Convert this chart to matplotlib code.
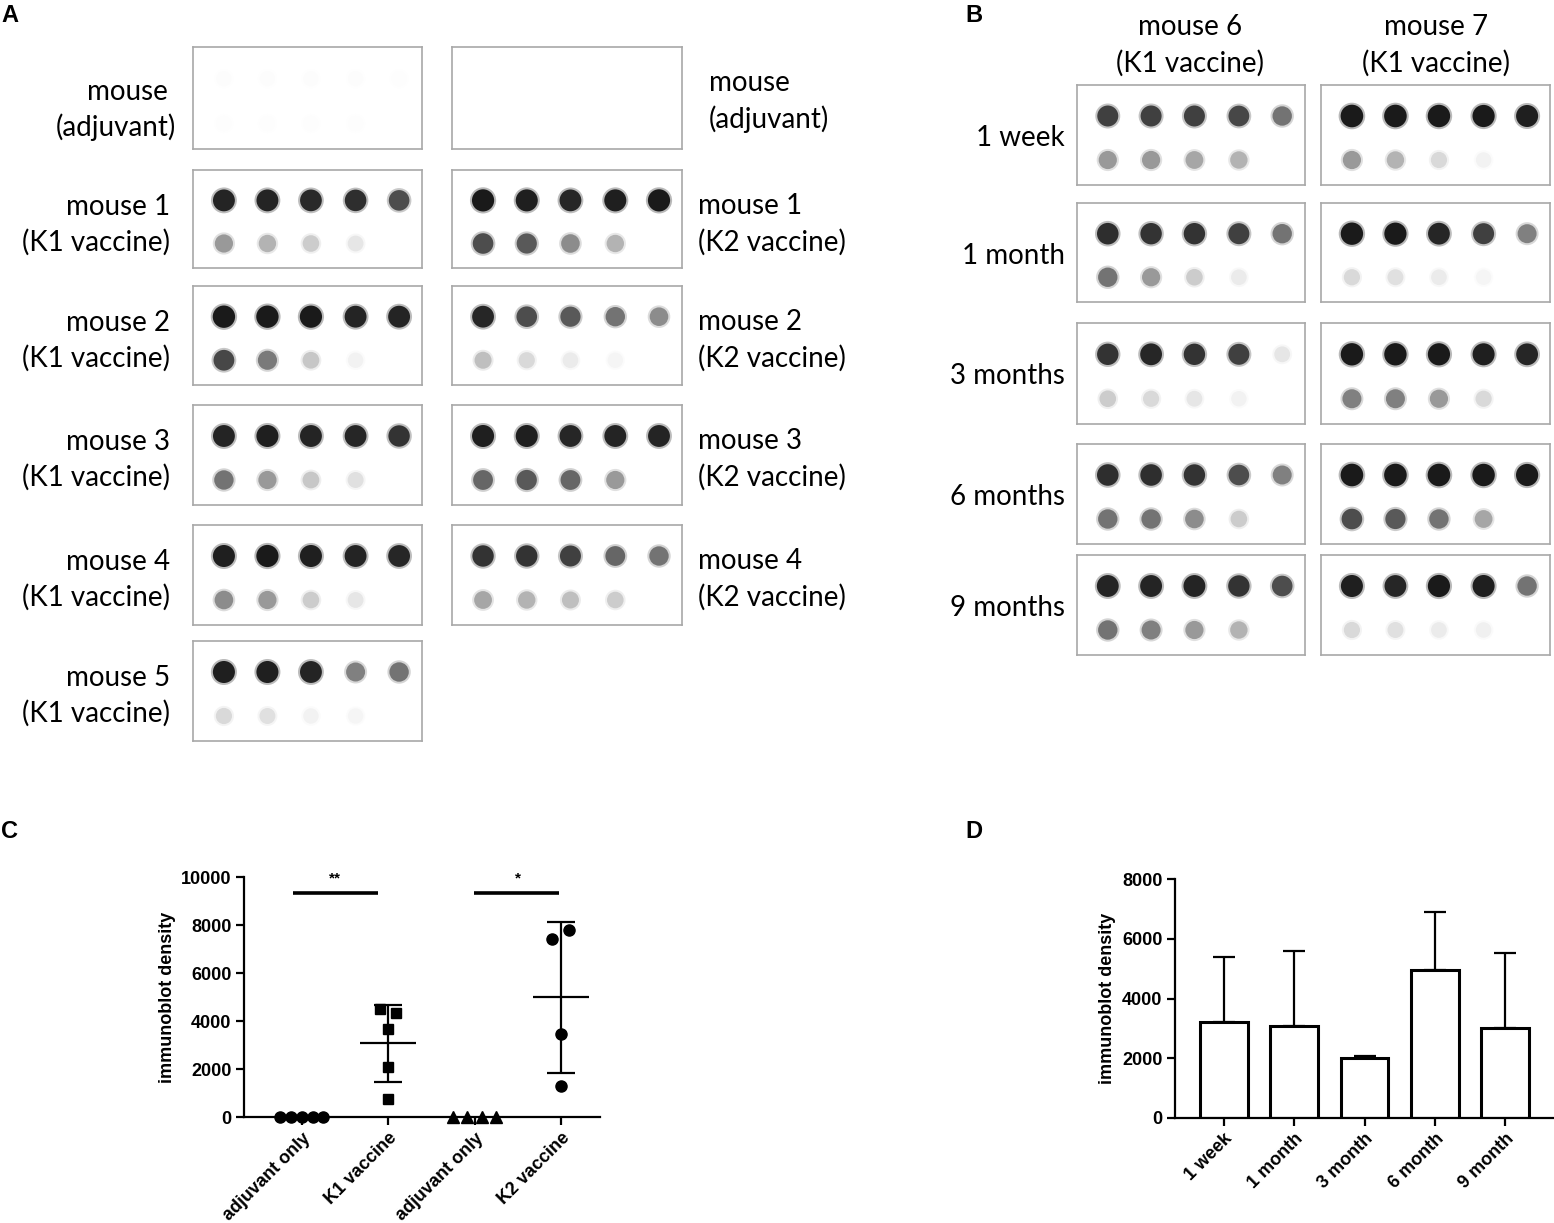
import matplotlib
matplotlib.use("Agg")
import matplotlib.pyplot as plt
import numpy as np

W, H = 1554, 1223

# ---- panel A dot blots: intensity 0 (none) .. 1 (black), top row 5 dots, bottom row 4
a_left_labels = [("mouse", "(adjuvant)"), ("mouse 1", "(K1 vaccine)"), ("mouse 2", "(K1 vaccine)"),
                 ("mouse 3", "(K1 vaccine)"), ("mouse 4", "(K1 vaccine)"), ("mouse 5", "(K1 vaccine)")]
a_left_top = [[0.012, 0.012, 0.012, 0.012, 0.008],
              [0.86, 0.86, 0.84, 0.82, 0.70],
              [0.92, 0.92, 0.90, 0.86, 0.86],
              [0.86, 0.88, 0.86, 0.85, 0.80],
              [0.88, 0.90, 0.88, 0.86, 0.85],
              [0.88, 0.88, 0.86, 0.50, 0.55]]
a_left_bot = [[0.008, 0.008, 0.008, 0.008],
              [0.40, 0.30, 0.20, 0.10],
              [0.72, 0.52, 0.22, 0.05],
              [0.55, 0.40, 0.22, 0.12],
              [0.45, 0.40, 0.20, 0.10],
              [0.15, 0.12, 0.05, 0.04]]

a_right_labels = [("mouse", "(adjuvant)"), ("mouse 1", "(K2 vaccine)"), ("mouse 2", "(K2 vaccine)"),
                  ("mouse 3", "(K2 vaccine)"), ("mouse 4", "(K2 vaccine)")]
a_right_top = [[0.0, 0.0, 0.0, 0.0, 0.0],
               [0.90, 0.88, 0.85, 0.88, 0.90],
               [0.85, 0.70, 0.65, 0.55, 0.45],
               [0.88, 0.88, 0.85, 0.86, 0.86],
               [0.80, 0.80, 0.75, 0.60, 0.55]]
a_right_bot = [[0.0, 0.0, 0.0, 0.0],
               [0.70, 0.65, 0.45, 0.30],
               [0.25, 0.15, 0.08, 0.04],
               [0.60, 0.65, 0.60, 0.40],
               [0.35, 0.30, 0.25, 0.20]]

# ---- panel B
b_rows = ["1 week", "1 month", "3 months", "6 months", "9 months"]
b_heads = [("mouse 6", "(K1 vaccine)"), ("mouse 7", "(K1 vaccine)")]
b_m6_top = [[0.75, 0.75, 0.75, 0.72, 0.55],
            [0.82, 0.80, 0.80, 0.75, 0.55],
            [0.80, 0.85, 0.80, 0.75, 0.10],
            [0.82, 0.82, 0.80, 0.70, 0.50],
            [0.86, 0.86, 0.86, 0.80, 0.70]]
b_m6_bot = [[0.40, 0.40, 0.35, 0.30],
            [0.55, 0.40, 0.20, 0.08],
            [0.20, 0.15, 0.10, 0.05],
            [0.55, 0.55, 0.45, 0.20],
            [0.55, 0.50, 0.40, 0.30]]
b_m7_top = [[0.95, 0.95, 0.93, 0.90, 0.88],
            [0.92, 0.90, 0.85, 0.75, 0.50],
            [0.92, 0.92, 0.90, 0.88, 0.85],
            [0.95, 0.95, 0.95, 0.93, 0.90],
            [0.88, 0.85, 0.90, 0.88, 0.55]]
b_m7_bot = [[0.40, 0.30, 0.15, 0.05],
            [0.15, 0.12, 0.08, 0.04],
            [0.50, 0.50, 0.40, 0.15],
            [0.70, 0.65, 0.55, 0.35],
            [0.15, 0.12, 0.08, 0.06]]

# ---- panel C
c_groups = ["adjuvant only", "K1 vaccine", "adjuvant only", "K2 vaccine"]
c_adj1 = [0, 0, 0, 0, 0]
c_adj1_x = [-0.25, -0.125, 0.0, 0.125, 0.25]
c_k1 = [4505, 4351, 3668, 2092, 753]
c_k1_x = [-0.1, 0.09, 0.0, 0.0, 0.0]
c_adj2 = [0, 0, 0, 0]
c_adj2_x = [-0.25, -0.09, 0.08, 0.25]
c_k2 = [7406, 7810, 3473, 1297]
c_k2_x = [-0.1, 0.09, 0.0, 0.0]

# ---- panel D
d_labels = ["1 week", "1 month", "3 month", "6 month", "9 month"]
d_mean = [3214, 3091, 2009, 4944, 3024]
d_sd = [2176, 2500, 78, 1964, 2511]

fig = plt.figure(figsize=(W / 100, H / 100), dpi=100)
LBL = ["Lato", "DejaVu Sans"]
BOLD = ["Liberation Sans", "DejaVu Sans"]


def px_axes(x0, y0, x1, y1):
    return fig.add_axes([x0 / W, 1 - y1 / H, (x1 - x0) / W, (y1 - y0) / H])


def ftext(x, y, s, **kw):
    fig.text(x / W, 1 - y / H, s, **kw)


dot_x = [0.135, 0.325, 0.515, 0.71, 0.90]


def blot(box, top, bot):
    ax = px_axes(*box)
    ax.set_xlim(0, 1)
    ax.set_ylim(1, 0)
    ax.set_xticks([])
    ax.set_yticks([])
    for sp in ax.spines.values():
        sp.set_color("#a8a8a8")
        sp.set_linewidth(1.2)
    for vals, yy in ((top, 0.31), (bot, 0.75)):
        xs = dot_x[:len(vals)]
        v = np.array(vals)
        d = 15 + 8 * v
        cols = [str(max(0.1, 1 - t)) for t in v]
        ax.scatter(xs, [yy] * len(xs), s=((d + 4) * 0.72) ** 2, c=cols, alpha=0.3, lw=0)
        ax.scatter(xs, [yy] * len(xs), s=(d * 0.72) ** 2, c=cols, lw=0)


FS = 20
# panel A
a_rows = [(47, 149), (170, 268), (286, 385), (405, 505), (525, 625), (641, 741)]
for i, (y0, y1) in enumerate(a_rows):
    blot((193, y0, 422, y1), a_left_top[i], a_left_bot[i])
    l1, l2 = a_left_labels[i]
    off = 8 if i == 0 else 0
    ftext(170 if i else 168, y0 + 37 + off, l1, ha="right", va="center", fontsize=FS, family=LBL)
    ftext(170 if i else 176, y0 + 72 + off, l2, ha="right", va="center", fontsize=FS, family=LBL)
for i, (y0, y1) in enumerate(a_rows[:5]):
    blot((452, y0, 682, y1), a_right_top[i], a_right_bot[i])
    l1, l2 = a_right_labels[i]
    xl = 709 if i == 0 else 698
    ftext(xl, y0 + 36, l1, ha="left", va="center", fontsize=FS, family=LBL)
    ftext(xl, y0 + 72, l2, ha="left", va="center", fontsize=FS, family=LBL)

# panel B
b_boxes = [(85, 185), (203, 302), (323, 424), (444, 544), (555, 655)]
for i, (y0, y1) in enumerate(b_boxes):
    blot((1077, y0, 1305, y1), b_m6_top[i], b_m6_bot[i])
    blot((1321, y0, 1550, y1), b_m7_top[i], b_m7_bot[i])
    ftext(1065, (y0 + y1) / 2 + 3, b_rows[i], ha="right", va="center", fontsize=FS, family=LBL)
for (h1, h2), xc in zip(b_heads, (1190, 1436)):
    ftext(xc, 27, h1, ha="center", va="center", fontsize=FS, family=LBL)
    ftext(xc, 63, h2, ha="center", va="center", fontsize=FS, family=LBL)

for s, x, y in (("A", 1, 16), ("B", 965, 16), ("C", 1, 831), ("D", 965, 831)):
    ftext(x, y, s, ha="left", va="center", fontsize=17, fontweight="bold", family=BOLD)


def style(ax):
    for k in ("top", "right"):
        ax.spines[k].set_visible(False)
    for k in ("left", "bottom"):
        ax.spines[k].set_linewidth(1.6)
    ax.tick_params(direction="out", length=5.5, width=1.6, labelsize=13)
    for t in ax.get_xticklabels() + ax.get_yticklabels():
        t.set_fontweight("bold")
        t.set_family(BOLD)


# panel C
axc = px_axes(244, 877, 600, 1117)
axc.set_xlim(0.33, 4.45)
axc.set_ylim(0, 10000)
mk = dict(color="black", linestyle="none", clip_on=False, zorder=3)
axc.plot(1 + np.array(c_adj1_x), c_adj1, marker="o", markersize=8, **mk)
axc.plot(2 + np.array(c_k1_x), c_k1, marker="s", markersize=7, **mk)
axc.plot(3 + np.array(c_adj2_x), c_adj2, marker="^", markersize=8, **mk)
axc.plot(4 + np.array(c_k2_x), c_k2, marker="o", markersize=8, **mk)
for pos, vals in ((2, c_k1), (4, c_k2)):
    m = np.mean(vals)
    sd = np.std(vals, ddof=1)
    axc.hlines(m, pos - 0.325, pos + 0.325, color="black", lw=1.6)
    axc.errorbar([pos], [m], yerr=[sd], color="black", lw=1.6, capsize=10, capthick=1.6)
axc.hlines(9350, 0.9, 1.885, color="black", lw=2.6)
axc.hlines(9350, 2.99, 3.98, color="black", lw=2.6)
axc.text(1.38, 9650, "**", ha="center", va="bottom", fontsize=11, fontweight="bold", family=BOLD)
axc.text(3.5, 9650, "*", ha="center", va="bottom", fontsize=11, fontweight="bold", family=BOLD)
axc.set_yticks([0, 2000, 4000, 6000, 8000, 10000])
axc.set_xticks([1, 2, 3, 4])
axc.set_xticklabels(c_groups, rotation=45, ha="right", rotation_mode="anchor")
axc.set_ylabel("immunoblot density", fontsize=13, fontweight="bold", family=BOLD)
axc.yaxis.set_label_coords(-0.19, 0.5)
style(axc)

# panel D
axd = px_axes(1175, 879, 1554, 1118)
xd = np.arange(1, 6)
axd.bar(xd, d_mean, width=0.68, facecolor="white", edgecolor="black", linewidth=2.2, zorder=2)
axd.errorbar(xd, d_mean, yerr=[np.zeros(5), d_sd], fmt="none", ecolor="black",
             elinewidth=1.6, capsize=8, capthick=1.6, zorder=1)
axd.set_xlim(1 - 0.69, 5 + 0.69)
axd.set_ylim(0, 8000)
axd.set_yticks([0, 2000, 4000, 6000, 8000])
axd.set_xticks(xd)
axd.set_xticklabels(d_labels, rotation=45, ha="right", rotation_mode="anchor")
axd.set_ylabel("immunoblot density", fontsize=13, fontweight="bold", family=BOLD)
axd.yaxis.set_label_coords(-0.155, 0.5)
style(axd)

fig.savefig("out.png", dpi=100)
